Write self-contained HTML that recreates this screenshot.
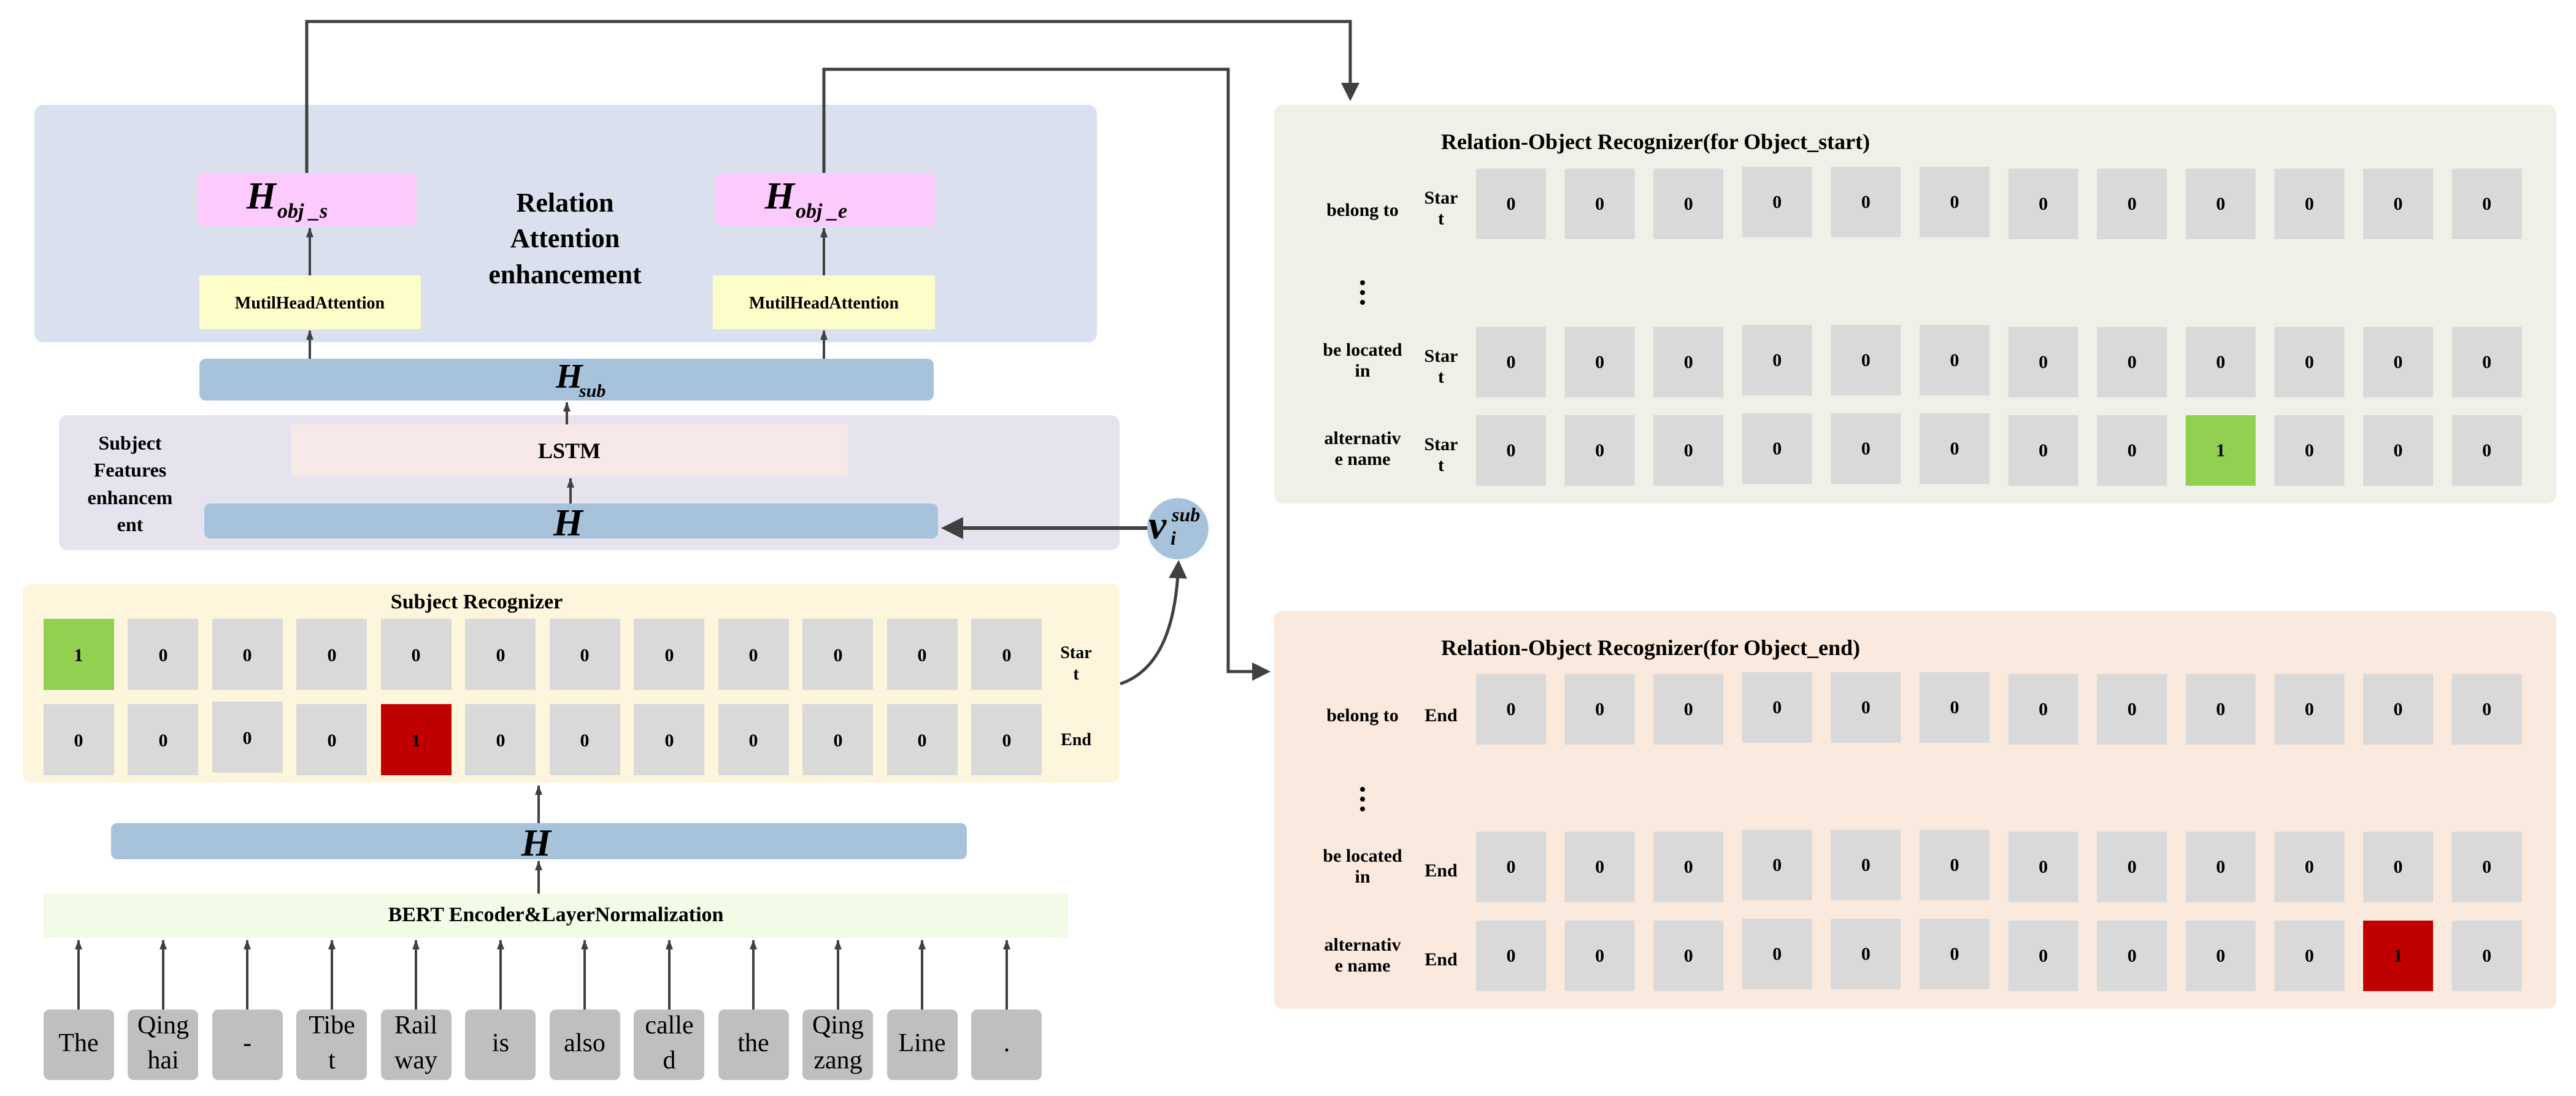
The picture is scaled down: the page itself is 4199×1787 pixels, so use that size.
<!DOCTYPE html>
<html><head><meta charset="utf-8"><style>
html,body{margin:0;padding:0;background:#fff}
svg{display:block}
text{font-family:"Liberation Serif",serif;fill:#000}
</style></head><body>
<svg width="4199" height="1787" viewBox="0 0 4199 1787" xmlns="http://www.w3.org/2000/svg">
<defs>
<marker id="ah" markerWidth="6" markerHeight="6" refX="5" refY="3" orient="auto" markerUnits="strokeWidth">
<path d="M0,0 L6,3 L0,6 z" fill="#404040"/></marker>
<marker id="as" markerWidth="16" markerHeight="12" refX="15" refY="6" orient="auto" markerUnits="userSpaceOnUse">
<path d="M0,0 L16,6 L0,12 z" fill="#404040"/></marker>
</defs>

<rect x="56" y="171" width="1732" height="387" rx="14" fill="#dae0ee"/>
<rect x="96" y="677" width="1729" height="220" rx="14" fill="#e6e3ee"/>
<rect x="37" y="952" width="1788" height="324" rx="14" fill="#fef5dd"/>
<rect x="2077" y="171" width="2090" height="650" rx="14" fill="#eff1e8"/>
<rect x="2077" y="996" width="2090" height="649" rx="14" fill="#f9eadd"/>

<g stroke="#404040" stroke-width="5" fill="none">
<polyline points="500,282 500,35 2201,35 2201,160" marker-end="url(#ah)"/>
<polyline points="1343,282 1343,113 2002,113 2002,1095 2066,1095" marker-end="url(#ah)"/>
</g>

<rect x="321" y="282" width="358" height="87" rx="12" fill="#fccafc"/>
<rect x="1165" y="282" width="359" height="87" rx="12" fill="#fccafc"/>
<text x="450" y="340" font-size="62" font-weight="bold" font-style="italic" text-anchor="end">H</text>
<text x="452" y="355" font-size="34" font-weight="bold" font-style="italic">obj _s</text>
<text x="1295" y="340" font-size="62" font-weight="bold" font-style="italic" text-anchor="end">H</text>
<text x="1297" y="355" font-size="34" font-weight="bold" font-style="italic">obj _e</text>
<g font-size="44" font-weight="bold" text-anchor="middle">
<text x="921" y="345">Relation</text>
<text x="921" y="403">Attention</text>
<text x="921" y="462">enhancement</text>
</g>
<rect x="325" y="449" width="361" height="88" fill="#fdfdc9"/>
<rect x="1162" y="449" width="362" height="88" fill="#fdfdc9"/>
<text x="505" y="503" font-size="28" font-weight="bold" text-anchor="middle">MutilHeadAttention</text>
<text x="1343" y="503" font-size="28" font-weight="bold" text-anchor="middle">MutilHeadAttention</text>

<rect x="325" y="585" width="1197" height="68" rx="10" fill="#a7c3dc"/>
<text x="906" y="632" font-size="56" font-weight="bold" font-style="italic">H</text>
<text x="944" y="647" font-size="30" font-weight="bold" font-style="italic">sub</text>

<g stroke="#404040" stroke-width="4" fill="none" marker-end="url(#as)">
<line x1="505" y1="449" x2="505" y2="372"/>
<line x1="1343" y1="449" x2="1343" y2="372"/>
<line x1="505" y1="585" x2="505" y2="539"/>
<line x1="1343" y1="585" x2="1343" y2="539"/>
<line x1="924" y1="692" x2="924" y2="656"/>
<line x1="930" y1="821" x2="930" y2="780"/>
</g>

<g font-size="32" font-weight="bold" text-anchor="middle">
<text x="212" y="733">Subject</text>
<text x="212" y="777">Features</text>
<text x="212" y="822">enhancem</text>
<text x="212" y="866">ent</text>
</g>
<rect x="475" y="692" width="907" height="85" fill="#f8e9e9"/>
<text x="928" y="747" font-size="36" font-weight="bold" text-anchor="middle">LSTM</text>
<rect x="333" y="821" width="1196" height="57" rx="10" fill="#a7c3dc"/>
<text x="926" y="873" font-size="62" font-weight="bold" font-style="italic" text-anchor="middle">H</text>

<circle cx="1920" cy="862" r="50" fill="#a7c3dc"/>
<text x="1872" y="878" font-size="66" font-weight="bold" font-style="italic">v</text>
<text x="1910" y="850" font-size="32" font-weight="bold" font-style="italic">sub</text>
<text x="1908" y="888" font-size="32" font-weight="bold" font-style="italic">i</text>
<line x1="1870" y1="861" x2="1540" y2="861" stroke="#404040" stroke-width="6" marker-end="url(#ah)"/>
<path d="M1826,1115 C1900,1090 1918,1000 1921,918" stroke="#404040" stroke-width="5" fill="none" marker-end="url(#ah)"/>

<text x="777" y="992" font-size="34" font-weight="bold" text-anchor="middle">Subject Recognizer</text>
<g font-size="30" font-weight="bold" text-anchor="middle">
<rect x="71" y="1009" width="115" height="116" fill="#92d050"/><text x="128" y="1078">1</text>
<rect x="208" y="1009" width="115" height="116" fill="#d9d9d9"/><text x="266" y="1078">0</text>
<rect x="346" y="1009" width="115" height="116" fill="#d9d9d9"/><text x="403" y="1078">0</text>
<rect x="483" y="1009" width="115" height="116" fill="#d9d9d9"/><text x="541" y="1078">0</text>
<rect x="621" y="1009" width="115" height="116" fill="#d9d9d9"/><text x="678" y="1078">0</text>
<rect x="758" y="1009" width="115" height="116" fill="#d9d9d9"/><text x="816" y="1078">0</text>
<rect x="896" y="1009" width="115" height="116" fill="#d9d9d9"/><text x="953" y="1078">0</text>
<rect x="1033" y="1009" width="115" height="116" fill="#d9d9d9"/><text x="1091" y="1078">0</text>
<rect x="1171" y="1009" width="115" height="116" fill="#d9d9d9"/><text x="1228" y="1078">0</text>
<rect x="1308" y="1009" width="115" height="116" fill="#d9d9d9"/><text x="1366" y="1078">0</text>
<rect x="1446" y="1009" width="115" height="116" fill="#d9d9d9"/><text x="1503" y="1078">0</text>
<rect x="1583" y="1009" width="115" height="116" fill="#d9d9d9"/><text x="1641" y="1078">0</text>
<rect x="71" y="1148" width="115" height="116" fill="#d9d9d9"/><text x="128" y="1217">0</text>
<rect x="208" y="1148" width="115" height="116" fill="#d9d9d9"/><text x="266" y="1217">0</text>
<rect x="346" y="1144" width="115" height="116" fill="#d9d9d9"/><text x="403" y="1213">0</text>
<rect x="483" y="1148" width="115" height="116" fill="#d9d9d9"/><text x="541" y="1217">0</text>
<rect x="621" y="1148" width="115" height="116" fill="#c00000"/><text x="678" y="1217">1</text>
<rect x="758" y="1148" width="115" height="116" fill="#d9d9d9"/><text x="816" y="1217">0</text>
<rect x="896" y="1148" width="115" height="116" fill="#d9d9d9"/><text x="953" y="1217">0</text>
<rect x="1033" y="1148" width="115" height="116" fill="#d9d9d9"/><text x="1091" y="1217">0</text>
<rect x="1171" y="1148" width="115" height="116" fill="#d9d9d9"/><text x="1228" y="1217">0</text>
<rect x="1308" y="1148" width="115" height="116" fill="#d9d9d9"/><text x="1366" y="1217">0</text>
<rect x="1446" y="1148" width="115" height="116" fill="#d9d9d9"/><text x="1503" y="1217">0</text>
<rect x="1583" y="1148" width="115" height="116" fill="#d9d9d9"/><text x="1641" y="1217">0</text>
</g>
<g font-size="28" font-weight="bold" text-anchor="middle">
<text x="1754" y="1073">Star</text><text x="1754" y="1108">t</text>
<text x="1754" y="1215">End</text>
</g>

<rect x="181" y="1342" width="1395" height="59" rx="10" fill="#a7c3dc"/>
<text x="874" y="1395" font-size="62" font-weight="bold" font-style="italic" text-anchor="middle">H</text>
<g stroke="#404040" stroke-width="4" fill="none" marker-end="url(#as)">
<line x1="878" y1="1342" x2="878" y2="1281"/>
<line x1="878" y1="1457" x2="878" y2="1404"/>
</g>
<rect x="71" y="1457" width="1670" height="72" fill="#f1fbe5"/>
<text x="906" y="1502" font-size="34" font-weight="bold" text-anchor="middle">BERT Encoder&amp;LayerNormalization</text>

<g stroke="#404040" stroke-width="4" fill="none" marker-end="url(#as)">
<line x1="128" y1="1647" x2="128" y2="1533"/><line x1="266" y1="1647" x2="266" y2="1533"/>
<line x1="403" y1="1647" x2="403" y2="1533"/><line x1="541" y1="1647" x2="541" y2="1533"/>
<line x1="678" y1="1647" x2="678" y2="1533"/><line x1="816" y1="1647" x2="816" y2="1533"/>
<line x1="953" y1="1647" x2="953" y2="1533"/><line x1="1091" y1="1647" x2="1091" y2="1533"/>
<line x1="1228" y1="1647" x2="1228" y2="1533"/><line x1="1366" y1="1647" x2="1366" y2="1533"/>
<line x1="1503" y1="1647" x2="1503" y2="1533"/><line x1="1641" y1="1647" x2="1641" y2="1533"/>
</g>
<g fill="#bfbfbf">
<rect x="71" y="1646" width="115" height="115" rx="10"/><rect x="208" y="1646" width="115" height="115" rx="10"/>
<rect x="346" y="1646" width="115" height="115" rx="10"/><rect x="483" y="1646" width="115" height="115" rx="10"/>
<rect x="621" y="1646" width="115" height="115" rx="10"/><rect x="758" y="1646" width="115" height="115" rx="10"/>
<rect x="896" y="1646" width="115" height="115" rx="10"/><rect x="1033" y="1646" width="115" height="115" rx="10"/>
<rect x="1171" y="1646" width="115" height="115" rx="10"/><rect x="1308" y="1646" width="115" height="115" rx="10"/>
<rect x="1446" y="1646" width="115" height="115" rx="10"/><rect x="1583" y="1646" width="115" height="115" rx="10"/>
</g>
<g font-size="42" text-anchor="middle">
<text x="128" y="1714">The</text>
<text x="266" y="1685">Qing</text><text x="266" y="1742">hai</text>
<text x="403" y="1714">-</text>
<text x="541" y="1685">Tibe</text><text x="541" y="1742">t</text>
<text x="678" y="1685">Rail</text><text x="678" y="1742">way</text>
<text x="816" y="1714">is</text>
<text x="953" y="1714">also</text>
<text x="1091" y="1685">calle</text><text x="1091" y="1742">d</text>
<text x="1228" y="1714">the</text>
<text x="1366" y="1685">Qing</text><text x="1366" y="1742">zang</text>
<text x="1503" y="1714">Line</text>
<text x="1641" y="1714">.</text>
</g>

<text x="2349" y="243" font-size="36" font-weight="bold">Relation-Object Recognizer(for Object_start)</text>
<g font-size="30" font-weight="bold" text-anchor="middle">
<text x="2221" y="352">belong to</text>
<text x="2349" y="332">Star</text><text x="2349" y="366">t</text>
<text x="2221" y="580">be located</text><text x="2221" y="614">in</text>
<text x="2349" y="590">Star</text><text x="2349" y="624">t</text>
<text x="2221" y="724">alternativ</text><text x="2221" y="758">e name</text>
<text x="2349" y="734">Star</text><text x="2349" y="768">t</text>
</g>
<g fill="#000"><circle cx="2221" cy="461" r="4"/><circle cx="2221" cy="477" r="4"/><circle cx="2221" cy="493" r="4"/></g>

<text x="2349" y="1068" font-size="36" font-weight="bold">Relation-Object Recognizer(for Object_end)</text>
<g font-size="30" font-weight="bold" text-anchor="middle">
<text x="2221" y="1176">belong to</text>
<text x="2349" y="1176">End</text>
<text x="2221" y="1405">be located</text><text x="2221" y="1439">in</text>
<text x="2349" y="1429">End</text>
<text x="2221" y="1550">alternativ</text><text x="2221" y="1584">e name</text>
<text x="2349" y="1574">End</text>
</g>
<g fill="#000"><circle cx="2221" cy="1287" r="4"/><circle cx="2221" cy="1303" r="4"/><circle cx="2221" cy="1319" r="4"/></g>

<g id="grid" font-size="30" font-weight="bold" text-anchor="middle"></g>
</svg>
<script>
(function(){
var g=document.getElementById('grid');var ns='http://www.w3.org/2000/svg';
var rows=[[275,-1,null],[533,-1,null],[677,8,'#92d050'],[1099,-1,null],[1356,-1,null],[1501,10,'#c00000']];
rows.forEach(function(r){
for(var i=0;i<12;i++){
var x=2406+i*144.6;var y=r[0]+((i>=3&&i<=5)?-3:0);
var rc=document.createElementNS(ns,'rect');
rc.setAttribute('x',x);rc.setAttribute('y',y);rc.setAttribute('width',114);rc.setAttribute('height',115);
rc.setAttribute('fill',i===r[1]?r[2]:'#d9d9d9');g.appendChild(rc);
var t=document.createElementNS(ns,'text');t.setAttribute('x',x+57);t.setAttribute('y',y+67);
t.textContent=(i===r[1]?'1':'0');g.appendChild(t);
}});
})();
</script>
</body></html>
